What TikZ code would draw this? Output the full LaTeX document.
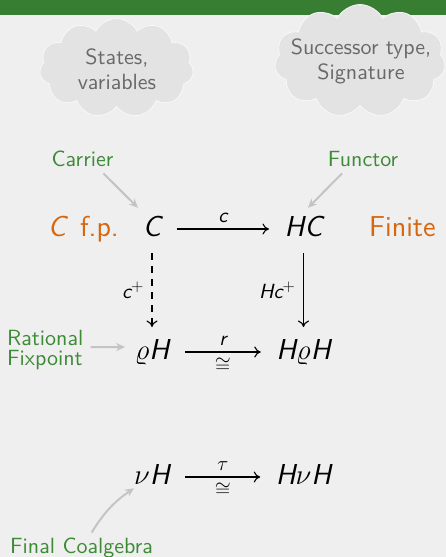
\RequirePackage{fix-cm}
\documentclass[tikz,border=0pt]{standalone}
\usepackage{fontspec}
\newfontfamily\sfsmall{lmsans10-regular.otf}[ItalicFont=lmsans10-oblique.otf]
\newfontfamily\sfbig{lmsans12-regular.otf}[ItalicFont=lmsans12-oblique.otf]
\usetikzlibrary{shapes.symbols,arrows.meta}
\definecolor{bgc}{RGB}{239,239,239}
\definecolor{barc}{RGB}{56,126,50}
\definecolor{grn}{RGB}{61,138,55}
\definecolor{org}{RGB}{214,102,16}
\definecolor{cloudfill}{RGB}{227,227,227}
\definecolor{cloudline}{RGB}{248,248,248}
\definecolor{cloudtxt}{RGB}{105,105,105}
\definecolor{garr}{RGB}{196,196,196}
\newcommand\si[1]{{\itshape #1}}
\newcommand\suppl{{\fontsize{17}{17}\selectfont\raisebox{6.5pt}{$+$}}}
\tikzset{
  fbig/.style={font=\sfbig\fontsize{28.8}{34}\selectfont},
  fsmall/.style={font=\sfsmall\fontsize{22}{24.5}\selectfont},
  obj/.style={fbig, inner sep=0pt, text height=16pt, text depth=1.6pt},
  flab/.style={font=\sfsmall\fontsize{20.5}{24}\selectfont, inner sep=0pt},
  cd/.style={line width=1.1pt, -{Computer Modern Rightarrow[length=6.5pt,width=11pt]}, shorten <=15.5pt, shorten >=15.5pt},
  cdv/.style={line width=1.1pt, -{Computer Modern Rightarrow[length=6.5pt,width=11pt]}, shorten <=15pt, shorten >=16pt},
  glab/.style={fsmall, text=grn, inner sep=0pt},
  olab/.style={fbig, text=org, inner sep=0pt},
  garrow/.style={draw=garr, line width=2pt, -{Stealth[length=9pt,width=8pt]}},
  cloudbox/.style={cloud, cloud puffs=11, cloud puff arc=125, fill=cloudfill, draw=cloudline, line width=0.8pt, inner sep=0pt},
  cloudtext/.style={fsmall, text=cloudtxt, align=center, inner sep=0pt}
}
\begin{document}
\begin{tikzpicture}[x=1pt,y=1pt]
\useasboundingbox (0,-557) rectangle (446,0);
\fill[bgc] (0,-557) rectangle (446,0);
\fill[barc] (0,-15) rectangle (446,0);
% clouds
\node[cloudbox, aspect=1.58, minimum width=154pt, minimum height=99pt] (cl1) at (116.5,-68) {};
\node[cloudtext] (t1) at (117,-69) {States,\\variables};
\node[cloudbox, aspect=1.52, minimum width=171pt, minimum height=113pt] (cl2) at (360,-61) {};
\node[cloudtext] (t2) at (361,-61.5) {Successor type,\\Signature};
% objects
\node[obj] (C) at (152,-229) {\si{C}};
\node[obj] (HC) at (303.5,-229) {\si{HC}};
\node[obj] (rH) at (152,-352) {$\varrho$\si{H}};
\node[obj] (HrH) at (303.5,-352) {\si{H}$\varrho$\si{H}};
\node[obj] (nH) at (152,-477) {$\nu$\si{H}};
\node[obj] (HnH) at (303.5,-477) {\si{H}$\nu$\si{H}};
% diagram arrows
\draw[cd] (C) -- node[flab, above=6pt]{\si{c}} (HC);
\draw[cdv, dash pattern=on 7pt off 6pt] (C) -- node[flab, left=8pt]{\si{c}\suppl} (rH);
\draw[cdv] (HC) -- node[flab, left=8pt]{\si{Hc}\suppl} (HrH);
\draw[cd] (rH) -- node[flab, above=5.5pt]{\si{r}} node[flab, below=5.5pt]{$\cong$} (HrH);
\draw[cd] (nH) -- node[flab, above=6pt]{$\tau$} node[flab, below=5pt]{$\cong$} (HnH);
% orange labels
\node[olab, anchor=base east] (cfp) at (119,-236) {\si{C}\, f.p.};
\node[olab, anchor=base west] (fin) at (369,-236) {Finite};
% green labels
\node[glab, anchor=base] (carrier) at (82.5,-166.7) {Carrier};
\node[glab, anchor=base] (functor) at (363,-166.7) {Functor};
\node[glab, anchor=north west, align=left, font=\sfsmall\fontsize{22}{20}\selectfont] (ratfix) at (7,-329.7) {Rational\\Fixpoint};
\node[glab, anchor=base west] (fc) at (10,-553) {Final Coalgebra};
% gray pointer arrows
\draw[garrow] ([xshift=21pt,yshift=-6.3pt]carrier.south) -- ([xshift=-14pt,yshift=12.2pt]C.north);
\draw[garrow] ([xshift=-21pt,yshift=-6.3pt]functor.south) -- ([xshift=4.5pt,yshift=12.2pt]HC.north);
\draw[garrow] ([xshift=7pt,yshift=2.5pt]ratfix.east) -- ([xshift=-9.5pt,yshift=5pt]rH.west);
\draw[garrow] ([xshift=10pt,yshift=4.7pt]fc.north) to[bend left=12] ([yshift=-2.2pt]nH.south west);
\end{tikzpicture}
\end{document}
